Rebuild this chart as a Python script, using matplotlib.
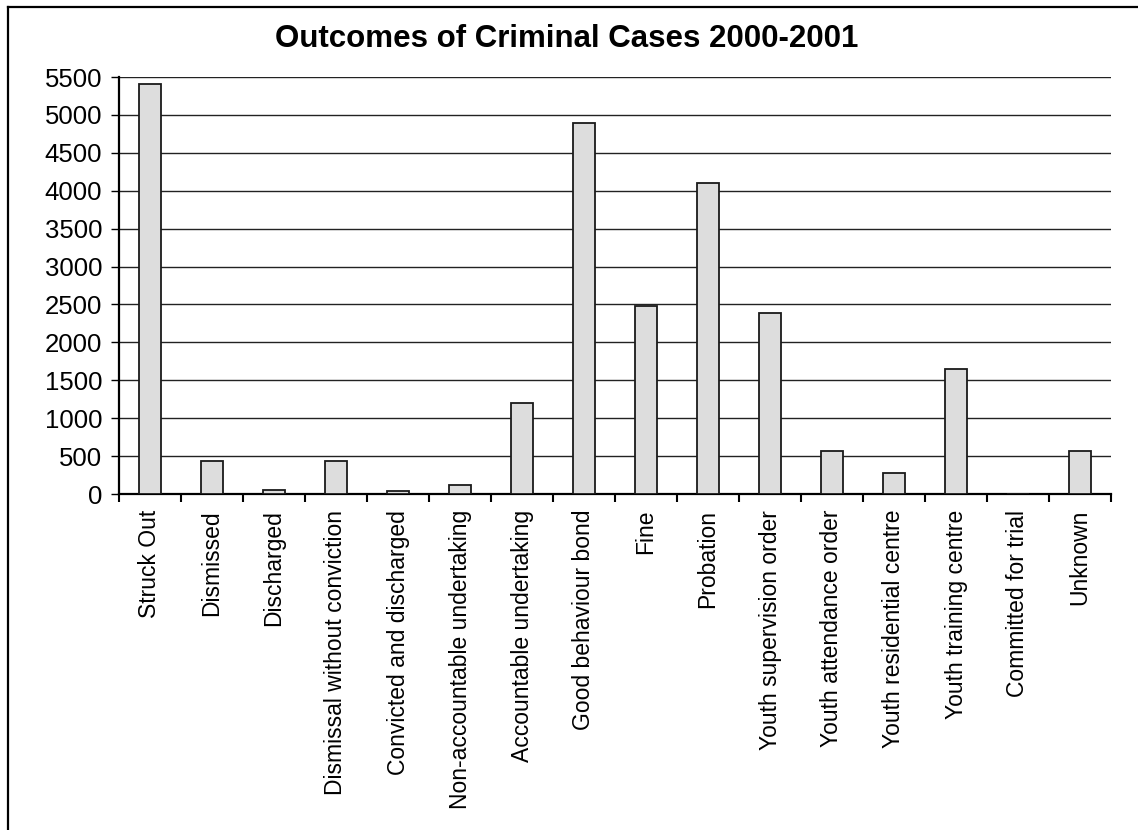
import matplotlib
matplotlib.use("Agg")
import matplotlib.pyplot as plt
from matplotlib.lines import Line2D
import numpy as np

categories = ["Struck Out", "Dismissed", "Discharged", "Dismissal without conviction",
              "Convicted and discharged", "Non-accountable undertaking",
              "Accountable undertaking", "Good behaviour bond", "Fine", "Probation",
              "Youth supervision order", "Youth attendance order",
              "Youth residential centre", "Youth training centre",
              "Committed for trial", "Unknown"]
values = [5410, 430, 58, 432, 45, 116, 1195, 4890, 2475, 4100, 2390, 562, 272, 1650, 0, 572]
yticks = list(range(0, 5501, 500))
title = "Outcomes of Criminal Cases 2000-2001"

plt.rcParams['font.family'] = ['Liberation Sans', 'DejaVu Sans']

W, H = 1138, 830
fig = plt.figure(figsize=(W / 100, H / 100), dpi=100)
ax = fig.add_axes([119 / W, 1 - 494 / H, (1111 - 119) / W, (494 - 77) / H])

x = np.arange(len(categories))
ax.bar(x, values, width=0.35, color="#dddddd", edgecolor="#1a1a1a", linewidth=1.3, zorder=3)

ax.set_xlim(-0.5, len(categories) - 0.5)
ax.set_ylim(0, 5500)
ax.set_yticks(yticks)
ax.set_yticklabels([str(v) for v in yticks], fontsize=18.5)
ax.set_xticks(x)
ax.set_xticklabels(categories, rotation=90, fontsize=16.5, va="top", ha="center")
ax.set_xticks(np.arange(len(categories) + 1) - 0.5, minor=True)
ax.tick_params(axis="x", which="major", length=0, pad=11.5)
ax.tick_params(axis="x", which="minor", length=5.5, width=1.5, direction="out")
ax.tick_params(axis="y", which="major", length=6, width=1, direction="out", pad=6)

ax.yaxis.grid(True, color="#222222", linewidth=1, zorder=0)
ax.set_axisbelow(True)
for s in ["top", "right"]:
    ax.spines[s].set_visible(False)
ax.spines["left"].set_linewidth(1.6)
ax.spines["bottom"].set_linewidth(1.6)

fig.text(567 / W, 1 - 47 / H, title, ha="center", va="baseline",
         fontsize=22.5, fontweight="bold")

# outer chart border (left and top edges visible)
fig.add_artist(Line2D([8 / W, 8 / W], [0, 1 - 7 / H], transform=fig.transFigure,
                      color="black", linewidth=1.6))
fig.add_artist(Line2D([8 / W, 1], [1 - 7 / H, 1 - 7 / H], transform=fig.transFigure,
                      color="black", linewidth=1.6))

fig.savefig("out.png", dpi=100)
